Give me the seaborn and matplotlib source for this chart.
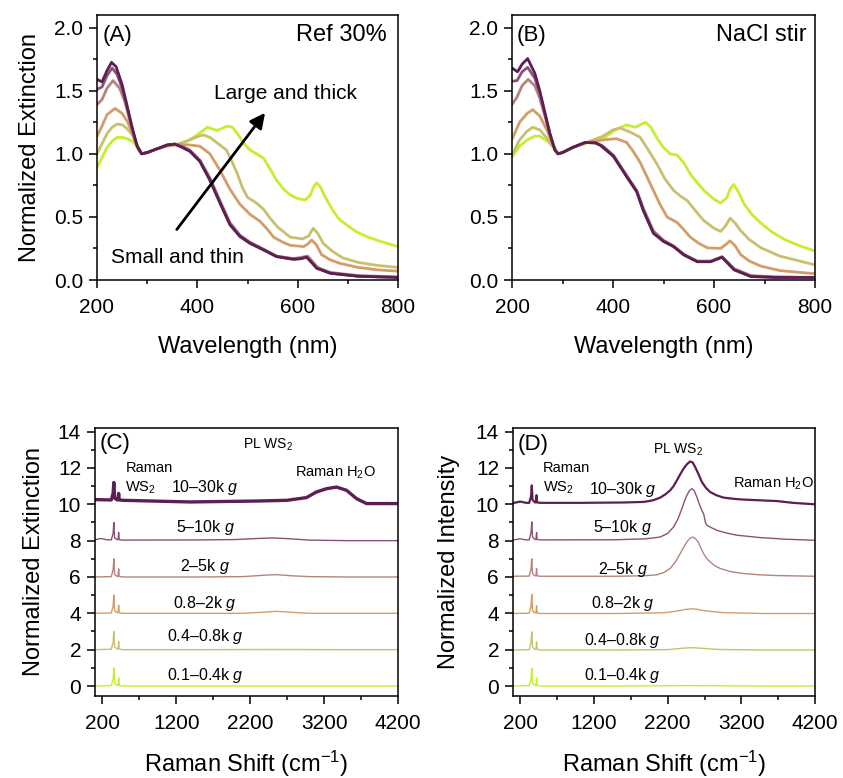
import numpy as np
import pandas as pd
import matplotlib
matplotlib.use("Agg")
import matplotlib.pyplot as plt
from matplotlib.ticker import MultipleLocator, FixedLocator, FormatStrFormatter
import seaborn as sns

sns.set_style("ticks")
plt.rcParams['font.family'] = ['Liberation Sans', 'DejaVu Sans']
plt.rcParams['mathtext.fontset'] = 'custom'
plt.rcParams['mathtext.rm'] = 'Liberation Sans'
plt.rcParams['mathtext.it'] = 'Liberation Sans:italic'
plt.rcParams['mathtext.bf'] = 'Liberation Sans:bold'
for k in ('text.color', 'axes.labelcolor', 'xtick.color', 'ytick.color', 'axes.edgecolor'):
    plt.rcParams[k] = 'black'

# ---------------- data ----------------
fractions = ["0.1\u20130.4k", "0.4\u20130.8k", "0.8\u20132k", "2\u20135k", "5\u201310k", "10\u201330k"]
colors = ["#c4ee2e", "#c8c06c", "#d49c68", "#b4857e", "#8c5176", "#5c1f52"]

# Panel A: Ref 30%  (wavelength nm, normalized extinction)
a_green_x = [200, 210, 220, 230, 240, 250, 260, 270, 280, 289, 300, 320, 340, 360, 380, 400, 420, 440, 460, 470, 480, 492, 505, 518, 532, 545, 558, 572, 585, 600, 615, 625, 632, 638, 645, 652, 660, 672, 684, 700, 718, 740, 770, 800]
a_green_y = [0.89, 0.97, 1.05, 1.10, 1.13, 1.13, 1.12, 1.10, 1.06, 1.00, 1.01, 1.04, 1.06, 1.075, 1.10, 1.15, 1.21, 1.185, 1.22, 1.21, 1.16, 1.085, 1.03, 1.00, 0.965, 0.88, 0.79, 0.72, 0.675, 0.645, 0.635, 0.67, 0.74, 0.77, 0.74, 0.68, 0.62, 0.54, 0.476, 0.43, 0.38, 0.34, 0.30, 0.265]
a_olive_x = [200, 210, 220, 230, 240, 250, 260, 270, 280, 289, 300, 320, 340, 360, 385, 400, 412, 425, 440, 458, 470, 480, 490, 500, 518, 532, 545, 560, 585, 610, 622, 631, 640, 651, 670, 690, 720, 760, 800]
a_olive_y = [1.00, 1.08, 1.16, 1.21, 1.235, 1.23, 1.20, 1.15, 1.07, 1.00, 1.01, 1.04, 1.06, 1.075, 1.11, 1.135, 1.15, 1.13, 1.085, 1.03, 0.93, 0.84, 0.73, 0.655, 0.61, 0.56, 0.49, 0.42, 0.34, 0.325, 0.35, 0.41, 0.37, 0.29, 0.225, 0.175, 0.14, 0.115, 0.10]
a_tan_x = [200, 210, 220, 236, 250, 260, 270, 280, 289, 300, 320, 340, 360, 385, 405, 425, 445, 465, 485, 505, 525, 540, 552, 570, 585, 612, 620, 628, 637, 648, 665, 684, 720, 760, 800]
a_tan_y = [1.137, 1.22, 1.31, 1.36, 1.32, 1.26, 1.17, 1.07, 1.00, 1.01, 1.04, 1.065, 1.075, 1.07, 1.06, 1.00, 0.87, 0.72, 0.60, 0.52, 0.465, 0.40, 0.34, 0.30, 0.275, 0.265, 0.285, 0.317, 0.28, 0.20, 0.16, 0.132, 0.10, 0.08, 0.07]
a_mauve_x = [200, 210, 220, 232, 245, 255, 265, 275, 283, 289, 300, 320, 340, 355, 370, 385, 405, 425, 445, 465, 485, 505, 532, 558, 591, 605, 620, 640, 665, 720, 800]
a_mauve_y = [1.39, 1.43, 1.52, 1.58, 1.52, 1.42, 1.27, 1.12, 1.03, 1.00, 1.01, 1.04, 1.07, 1.077, 1.06, 1.03, 0.95, 0.81, 0.63, 0.455, 0.355, 0.30, 0.245, 0.19, 0.17, 0.178, 0.19, 0.10, 0.06, 0.035, 0.025]
a_plum_x = [200, 210, 220, 230, 240, 250, 260, 270, 280, 289, 300, 320, 340, 355, 370, 385, 405, 425, 445, 465, 485, 505, 532, 558, 591, 605, 618, 638, 665, 720, 800]
a_plum_y = [1.51, 1.53, 1.62, 1.68, 1.63, 1.52, 1.37, 1.20, 1.06, 1.00, 1.01, 1.04, 1.07, 1.077, 1.055, 1.025, 0.945, 0.80, 0.62, 0.445, 0.35, 0.295, 0.24, 0.187, 0.166, 0.17, 0.182, 0.095, 0.055, 0.03, 0.02]
a_dark_x = [200, 210, 220, 229, 238, 250, 260, 270, 280, 289, 300, 320, 340, 355, 370, 385, 405, 425, 445, 465, 485, 505, 532, 558, 591, 605, 618, 630, 638, 665, 720, 800]
a_dark_y = [1.59, 1.57, 1.66, 1.725, 1.69, 1.55, 1.38, 1.21, 1.06, 1.00, 1.01, 1.04, 1.07, 1.077, 1.05, 1.02, 0.94, 0.79, 0.61, 0.437, 0.344, 0.29, 0.238, 0.185, 0.164, 0.168, 0.18, 0.13, 0.093, 0.053, 0.03, 0.02]

# Panel B: NaCl stir
b_green_x = [200, 215, 230, 245, 255, 270, 281, 291, 300, 320, 348, 370, 387, 405, 427, 444, 464, 475, 487, 500, 513, 527, 540, 553, 567, 580, 600, 613, 625, 632, 639, 648, 660, 675, 693, 715, 740, 770, 800]
b_green_y = [0.975, 1.06, 1.11, 1.14, 1.14, 1.10, 1.06, 1.00, 1.01, 1.05, 1.085, 1.11, 1.14, 1.19, 1.23, 1.21, 1.25, 1.21, 1.125, 1.05, 1.00, 0.99, 0.93, 0.84, 0.77, 0.71, 0.64, 0.61, 0.65, 0.72, 0.757, 0.70, 0.60, 0.52, 0.45, 0.38, 0.32, 0.27, 0.23]
b_olive_x = [200, 215, 230, 241, 255, 270, 280, 291, 300, 320, 348, 380, 400, 414, 435, 454, 470, 487, 503, 520, 535, 547, 565, 580, 600, 613, 623, 632, 642, 653, 670, 693, 730, 770, 800]
b_olive_y = [0.99, 1.11, 1.18, 1.21, 1.19, 1.12, 1.06, 1.00, 1.01, 1.05, 1.09, 1.14, 1.19, 1.205, 1.17, 1.13, 1.03, 0.92, 0.80, 0.71, 0.66, 0.63, 0.54, 0.47, 0.41, 0.385, 0.43, 0.49, 0.45, 0.39, 0.32, 0.255, 0.19, 0.15, 0.12]
b_tan_x = [200, 215, 230, 241, 255, 270, 280, 291, 300, 320, 348, 380, 407, 427, 440, 454, 467, 480, 493, 507, 527, 540, 553, 570, 587, 613, 623, 632, 642, 653, 670, 693, 730, 770, 800]
b_tan_y = [1.115, 1.25, 1.32, 1.35, 1.30, 1.18, 1.08, 1.00, 1.01, 1.05, 1.09, 1.11, 1.12, 1.09, 1.02, 0.93, 0.82, 0.71, 0.60, 0.50, 0.455, 0.40, 0.34, 0.29, 0.255, 0.25, 0.28, 0.31, 0.27, 0.20, 0.15, 0.11, 0.075, 0.06, 0.05]
b_mauve_x = [200, 210, 220, 232, 245, 255, 265, 275, 285, 291, 300, 320, 345, 365, 380, 401, 427, 447, 460, 480, 500, 520, 540, 567, 593, 616, 640, 673, 720, 800]
b_mauve_y = [1.39, 1.45, 1.54, 1.59, 1.54, 1.44, 1.30, 1.15, 1.03, 1.00, 1.01, 1.05, 1.09, 1.09, 1.06, 0.99, 0.83, 0.71, 0.57, 0.39, 0.315, 0.27, 0.205, 0.15, 0.15, 0.185, 0.09, 0.035, 0.025, 0.02]
b_plum_x = [200, 210, 220, 231, 245, 255, 265, 275, 285, 291, 300, 320, 345, 365, 380, 401, 427, 447, 460, 480, 500, 520, 540, 567, 593, 616, 640, 673, 720, 800]
b_plum_y = [1.575, 1.58, 1.65, 1.685, 1.60, 1.48, 1.32, 1.16, 1.03, 1.00, 1.01, 1.05, 1.09, 1.09, 1.06, 0.98, 0.82, 0.70, 0.555, 0.375, 0.31, 0.265, 0.20, 0.145, 0.145, 0.182, 0.082, 0.03, 0.022, 0.02]
b_dark_x = [200, 211, 220, 231, 245, 255, 265, 275, 285, 291, 300, 320, 345, 365, 374, 401, 427, 447, 460, 480, 500, 520, 540, 567, 593, 616, 640, 673, 720, 800]
b_dark_y = [1.68, 1.65, 1.71, 1.755, 1.64, 1.50, 1.33, 1.16, 1.03, 1.00, 1.01, 1.05, 1.09, 1.085, 1.07, 0.98, 0.82, 0.70, 0.55, 0.37, 0.305, 0.265, 0.20, 0.145, 0.145, 0.18, 0.08, 0.027, 0.02, 0.02]

# Panel C: Raman spectra (Raman shift cm-1, offset normalized intensity)
c_green_x = [100, 320, 345, 355, 365, 400, 412, 420, 428, 480, 1500, 2500, 3500, 4200]
c_green_y = [0.0, 0.02, 0.4, 1.0, 0.15, 0.03, 0.05, 0.45, 0.03, 0.0, 0.0, 0.0, 0.0, 0.0]
c_olive_x = [100, 320, 345, 355, 365, 400, 412, 420, 428, 480, 1500, 2500, 3500, 4200]
c_olive_y = [2.0, 2.02, 2.4, 3.0, 2.15, 2.03, 2.05, 2.45, 2.03, 2.0, 2.0, 2.01, 2.0, 2.0]
c_tan_x = [100, 320, 345, 355, 365, 400, 412, 420, 428, 480, 1500, 2100, 2400, 2555, 2750, 3000, 3500, 4200]
c_tan_y = [4.0, 4.02, 4.4, 5.0, 4.15, 4.03, 4.05, 4.45, 4.03, 4.0, 4.0, 4.0, 4.07, 4.11, 4.06, 4.0, 4.0, 4.0]
c_mauve_x = [100, 320, 345, 355, 365, 400, 412, 420, 428, 480, 1500, 2100, 2400, 2550, 2750, 3000, 3500, 4200]
c_mauve_y = [6.0, 6.02, 6.4, 7.0, 6.15, 6.03, 6.05, 6.45, 6.03, 6.0, 6.0, 6.02, 6.1, 6.13, 6.07, 6.02, 6.0, 6.0]
c_plum_x = [100, 180, 260, 320, 345, 355, 365, 400, 412, 420, 428, 480, 1500, 2000, 2300, 2500, 2750, 3000, 3500, 4200]
c_plum_y = [8.05, 8.12, 8.05, 8.04, 8.4, 9.0, 8.15, 8.05, 8.07, 8.45, 8.05, 8.03, 8.04, 8.06, 8.12, 8.15, 8.1, 8.03, 8.0, 8.0]
c_dark_x = [100, 320, 345, 355, 365, 400, 412, 420, 428, 480, 1380, 2284, 2700, 2962, 3097, 3233, 3369, 3504, 3640, 3775, 4200]
c_dark_y = [10.26, 10.24, 10.6, 11.2, 10.35, 10.24, 10.26, 10.6, 10.24, 10.22, 10.13, 10.18, 10.22, 10.37, 10.68, 10.86, 10.95, 10.77, 10.31, 10.04, 10.04]

# Panel D: PL + Raman spectra
d_green_x = [100, 320, 345, 355, 365, 400, 412, 420, 428, 480, 1500, 2500, 3500, 4200]
d_green_y = [0.0, 0.02, 0.4, 0.97, 0.15, 0.03, 0.05, 0.43, 0.03, 0.0, 0.0, 0.02, 0.0, 0.0]
d_olive_x = [100, 320, 345, 355, 365, 400, 412, 420, 428, 480, 1500, 2200, 2400, 2528, 2650, 2900, 3500, 4200]
d_olive_y = [1.98, 2.0, 2.4, 2.98, 2.13, 2.01, 2.03, 2.43, 2.01, 1.98, 1.98, 2.0, 2.08, 2.11, 2.08, 2.01, 1.98, 1.98]
d_tan_x = [100, 320, 345, 355, 365, 400, 412, 420, 428, 480, 1500, 2150, 2350, 2450, 2528, 2600, 2700, 2950, 3500, 4200]
d_tan_y = [3.99, 4.01, 4.4, 5.05, 4.14, 4.02, 4.04, 4.42, 4.02, 3.99, 3.99, 4.03, 4.14, 4.22, 4.25, 4.22, 4.14, 4.04, 3.99, 3.99]
d_mauve_x = [100, 320, 345, 355, 365, 400, 412, 420, 428, 480, 1500, 1900, 2053, 2150, 2234, 2300, 2370, 2420, 2460, 2500, 2541, 2580, 2618, 2650, 2686, 2730, 2776, 2840, 2912, 3050, 3228, 3450, 3680, 4200]
d_mauve_y = [6.04, 6.05, 6.45, 7.0, 6.18, 6.06, 6.08, 6.46, 6.06, 6.04, 6.04, 6.07, 6.12, 6.25, 6.47, 6.8, 7.29, 7.65, 7.93, 8.12, 8.2, 8.1, 7.9, 7.6, 7.29, 7.02, 6.83, 6.62, 6.47, 6.3, 6.19, 6.12, 6.08, 6.04]
d_plum_x = [100, 200, 280, 320, 345, 355, 365, 400, 412, 420, 428, 480, 1500, 1900, 2099, 2200, 2280, 2340, 2393, 2430, 2460, 2495, 2528, 2560, 2596, 2630, 2664, 2690, 2712, 2731, 2800, 2867, 3000, 3138, 3454, 3800, 4200]
d_plum_y = [8.04, 8.1, 8.04, 8.04, 8.45, 9.03, 8.2, 8.06, 8.08, 8.45, 8.06, 8.04, 8.05, 8.1, 8.2, 8.4, 8.75, 9.2, 9.76, 10.2, 10.49, 10.75, 10.86, 10.75, 10.4, 10.0, 9.67, 9.45, 9.0, 8.85, 8.7, 8.57, 8.42, 8.3, 8.17, 8.08, 8.02]
d_dark_x = [100, 200, 280, 320, 345, 355, 365, 400, 412, 420, 428, 480, 1000, 1600, 1872, 2000, 2099, 2170, 2234, 2280, 2325, 2370, 2415, 2460, 2505, 2540, 2573, 2620, 2664, 2720, 2776, 2860, 2957, 3100, 3228, 3454, 3680, 3900, 4200]
d_dark_y = [10.07, 10.15, 10.08, 10.08, 10.45, 11.04, 10.25, 10.1, 10.12, 10.5, 10.1, 10.08, 10.08, 10.1, 10.13, 10.22, 10.37, 10.55, 10.77, 11.0, 11.32, 11.65, 11.96, 12.2, 12.36, 12.3, 12.05, 11.65, 11.23, 10.9, 10.68, 10.5, 10.37, 10.3, 10.26, 10.22, 10.18, 10.08, 10.0]

c_label_y = [0.6, 2.7, 4.55, 6.55, 8.7, 10.9]
d_label_y = [0.6, 2.5, 4.55, 6.4, 8.7, 10.8]

A = [(a_green_x, a_green_y), (a_olive_x, a_olive_y), (a_tan_x, a_tan_y),
     (a_mauve_x, a_mauve_y), (a_plum_x, a_plum_y), (a_dark_x, a_dark_y)]
B = [(b_green_x, b_green_y), (b_olive_x, b_olive_y), (b_tan_x, b_tan_y),
     (b_mauve_x, b_mauve_y), (b_plum_x, b_plum_y), (b_dark_x, b_dark_y)]
C = [(c_green_x, c_green_y), (c_olive_x, c_olive_y), (c_tan_x, c_tan_y),
     (c_mauve_x, c_mauve_y), (c_plum_x, c_plum_y), (c_dark_x, c_dark_y)]
D = [(d_green_x, d_green_y), (d_olive_x, d_olive_y), (d_tan_x, d_tan_y),
     (d_mauve_x, d_mauve_y), (d_plum_x, d_plum_y), (d_dark_x, d_dark_y)]

# ---------------- figure ----------------
W, H = 843, 778
fig = plt.figure(figsize=(W / 100, H / 100), dpi=100)

def box(l, t, r, b):
    return [l / W, 1 - b / H, (r - l) / W, (b - t) / H]

axA = fig.add_axes(box(97, 15, 398, 280))
axB = fig.add_axes(box(512, 15, 815, 280))
axC = fig.add_axes(box(95, 428, 398, 696))
axD = fig.add_axes(box(513, 428, 815, 696))

TICK_FS = 15
LABEL_FS = 17

def style(ax):
    for s in ax.spines.values():
        s.set_linewidth(1.1)
        s.set_color("black")
        s.set_visible(True)
    ax.tick_params(which="major", direction="out", length=6, width=1.1, labelsize=TICK_FS,
                   top=False, right=False, pad=4, colors="black")
    ax.tick_params(axis="x", which="major", pad=7)
    ax.tick_params(which="minor", direction="out", length=3, width=1.1, top=False, right=False)

for ax, series in ((axA, A), (axB, B)):
    for (x, y), col, name in zip(series, colors, fractions):
        df = pd.DataFrame({"x": x, "y": y})
        sns.lineplot(data=df, x="x", y="y", ax=ax, color=col, lw=2.0, sort=False,
                     estimator=None, legend=False)
    ax.set_xlim(200, 800)
    ax.set_ylim(0, 2.1)
    ax.xaxis.set_major_locator(FixedLocator([200, 400, 600, 800]))
    ax.xaxis.set_minor_locator(FixedLocator([300, 500, 700]))
    ax.yaxis.set_major_locator(FixedLocator([0, 0.5, 1.0, 1.5, 2.0]))
    ax.yaxis.set_minor_locator(FixedLocator([0.25, 0.75, 1.25, 1.75]))
    ax.yaxis.set_major_formatter(FormatStrFormatter("%.1f"))
    ax.set_xlabel("Wavelength (nm)", fontsize=LABEL_FS, labelpad=14)
    ax.set_ylabel("")
    style(ax)

axA.set_ylabel("Normalized Extinction", fontsize=LABEL_FS, labelpad=9)

for ax, series in ((axC, C), (axD, D)):
    for i, ((x, y), col) in enumerate(zip(series, colors)):
        df = pd.DataFrame({"x": x, "y": y})
        lw = 1.0
        if i == 5:
            lw = 2.4 if ax is axC else 1.6
        sns.lineplot(data=df, x="x", y="y", ax=ax, color=col, lw=lw, sort=False,
                     estimator=None, legend=False)
    ax.set_xlim(100, 4200)
    ax.set_ylim(-0.55, 14.2)
    ax.xaxis.set_major_locator(FixedLocator([200, 1200, 2200, 3200, 4200]))
    ax.xaxis.set_minor_locator(FixedLocator([700, 1700, 2700, 3700]))
    ax.yaxis.set_major_locator(MultipleLocator(2))
    ax.yaxis.set_minor_locator(MultipleLocator(1))
    ax.set_xlabel("Raman Shift (cm$^{-1}$)", fontsize=LABEL_FS, labelpad=11)
    style(ax)

axC.set_ylabel("Normalized Extinction", fontsize=LABEL_FS, labelpad=9)
axD.set_ylabel("Normalized Intensity", fontsize=LABEL_FS, labelpad=11)

# ---------------- annotations ----------------
axA.text(212, 1.94, "(A)", fontsize=16, ha="left", va="center")
axA.text(778, 1.94, "Ref 30%", fontsize=17, ha="right", va="center")
axA.text(575, 1.48, "Large and thick", fontsize=15, ha="center", va="center")
axA.text(360, 0.175, "Small and thin", fontsize=15, ha="center", va="center")
axA.annotate("", xy=(535, 1.325), xytext=(359, 0.40),
             arrowprops=dict(arrowstyle="-|>,head_length=0.9,head_width=0.45",
                             color="black", lw=2.0, shrinkA=0, shrinkB=0))

axB.text(210, 1.94, "(B)", fontsize=16, ha="left", va="center")
axB.text(784, 1.94, "NaCl stir", fontsize=17, ha="right", va="center")

for ax, ly, pl, h2o in ((axC, c_label_y, (2437, 13.25), (2803, 11.75)),
                        (axD, d_label_y, (2342, 13.0), (3088, 11.15))):
    for name, yy in zip(fractions, ly):
        ax.text(1590, yy, name + " $g$", fontsize=11.5, ha="center", va="center")
    ax.text(pl[0], pl[1], "PL WS$_2$", fontsize=10, ha="center", va="center")
    ax.text(h2o[0], h2o[1], "Raman H$_2$O", fontsize=10.5, ha="left", va="center")
    ax.text(510, 12.0, "Raman", fontsize=10.5, ha="left", va="center")
    ax.text(510, 10.9, "WS$_2$", fontsize=10.5, ha="left", va="center")

axC.text(160, 13.35, "(C)", fontsize=16, ha="left", va="center")
axD.text(160, 13.3, "(D)", fontsize=16, ha="left", va="center")

fig.savefig("out.png", dpi=100)
